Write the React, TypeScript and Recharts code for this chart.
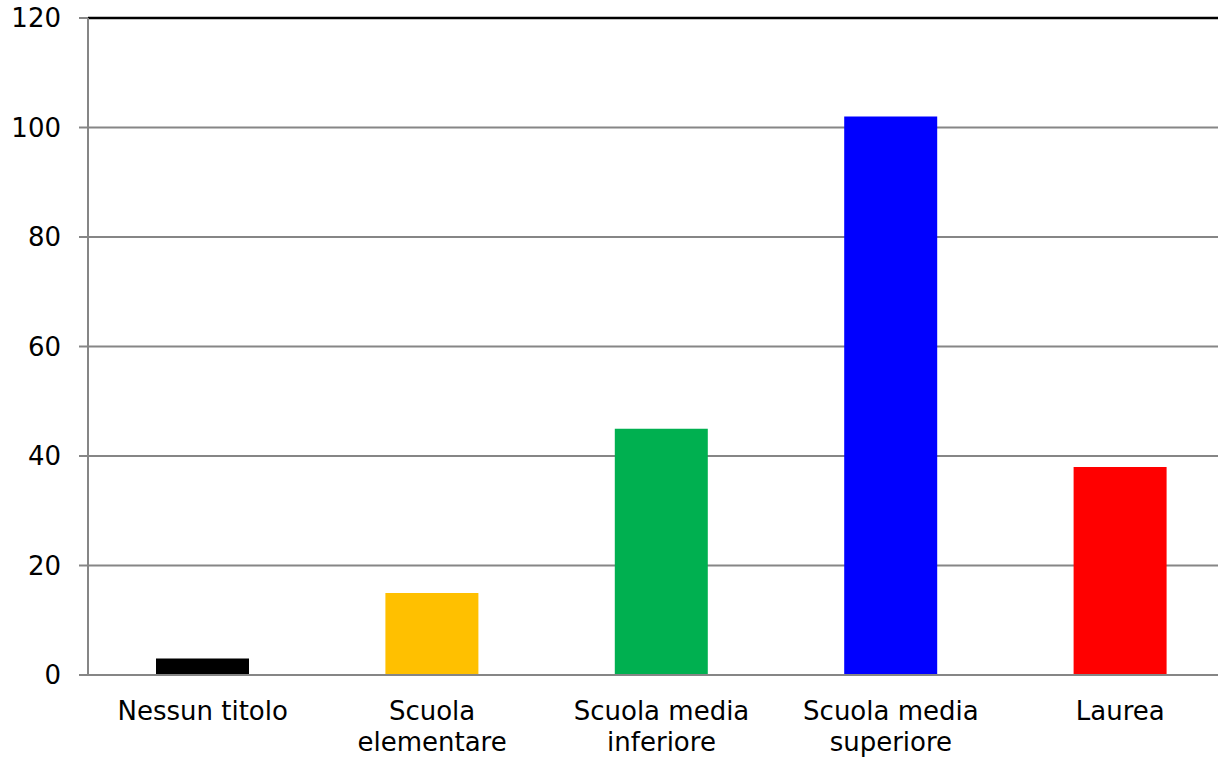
import React from "react";
import { BarChart, Bar, XAxis, YAxis, CartesianGrid, Cell, ReferenceLine } from "recharts";

const categories = ["Nessun titolo", "Scuola elementare", "Scuola media inferiore", "Scuola media superiore", "Laurea"];
const labelLines = [["Nessun titolo"], ["Scuola", "elementare"], ["Scuola media", "inferiore"], ["Scuola media", "superiore"], ["Laurea"]];
const values = [3, 15, 45, 102, 38];
const colors = ["#000000", "#FFC000", "#00B050", "#0000FF", "#FF0000"];
const yTicks = [0, 20, 40, 60, 80, 100, 120];

const data = categories.map((c, i) => ({ name: c, value: values[i], idx: i }));

const FONT = "'DejaVu Sans', Verdana, sans-serif";

const XTick = (props: any) => {
  const { x, y, index } = props;
  const lines = labelLines[index] || [];
  return (
    <text x={x} y={y} textAnchor="middle" fontFamily={FONT} fontSize={26} fill="#000">
      {lines.map((l: string, i: number) => (
        <tspan key={i} x={x} dy={i === 0 ? 37 : 31}>{l}</tspan>
      ))}
    </text>
  );
};

export default function App() {
  return (
    <div style={{ position: "fixed", left: 0, top: 0, width: 1218, height: 757, overflow: "hidden", background: "#fff" }}>
      <BarChart width={1235} height={757} data={data} margin={{ top: 18, right: 0, bottom: 0, left: 0 }}>
        <CartesianGrid vertical={false} stroke="#868686" strokeWidth={2} />
        <XAxis
          dataKey="name"
          height={82}
          tick={<XTick />}
          tickLine={false}
          axisLine={{ stroke: "#868686", strokeWidth: 2 }}
          interval={0}
        />
        <YAxis
          width={88}
          domain={[0, 120]}
          ticks={yTicks}
          tickSize={9}
          tickMargin={18}
          axisLine={{ stroke: "#868686", strokeWidth: 2 }}
          tickLine={{ stroke: "#868686", strokeWidth: 2 }}
          tick={{ fill: "#000", fontSize: 26, fontFamily: FONT }}
        />
        <ReferenceLine y={120} stroke="#000" strokeWidth={2.5} />
        <Bar dataKey="value" barSize={93} isAnimationActive={false}>
          {data.map((d, i) => (
            <Cell key={i} fill={colors[i]} />
          ))}
        </Bar>
      </BarChart>
    </div>
  );
}
